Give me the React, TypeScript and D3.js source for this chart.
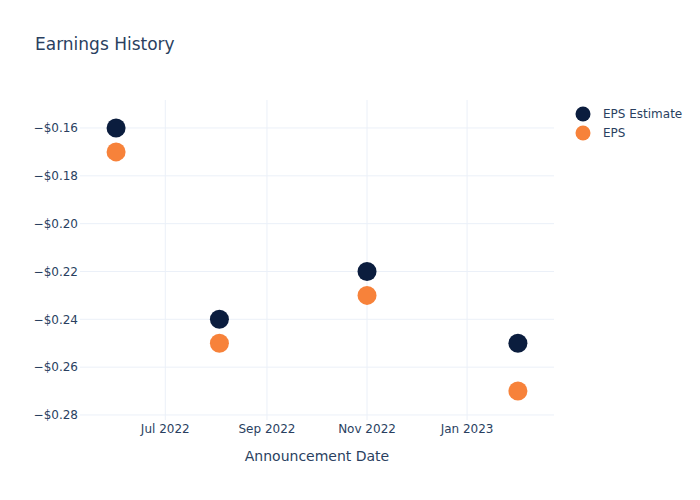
import React from "react";
import * as d3 from "d3";

const dates = ["2022-06-01", "2022-08-03", "2022-11-01", "2023-02-01"];
const epsEstimate = [-0.16, -0.24, -0.22, -0.25];
const eps = [-0.17, -0.25, -0.23, -0.27];
const yTicks = [-0.16, -0.18, -0.2, -0.22, -0.24, -0.26, -0.28];
const xTicks = ["2022-07-01", "2022-09-01", "2022-11-01", "2023-01-01"];
const seriesNames = ["EPS Estimate", "EPS"];

const W = 700, H = 500;
const left = 80, right = 554, top = 100, bottom = 420;
const FONT = "'DejaVu Sans', Verdana, sans-serif";
const TXT = "#2a3f5f";
const GRID = "#ebf0f8";
const NAVY = "#0b1d3e";
const ORANGE = "#f7823a";

export default function App() {
  const parse = d3.utcParse("%Y-%m-%d");
  const x = d3.scaleUtc()
    .domain([parse("2022-05-10")!, parse("2023-02-23")!])
    .range([left, right]);
  const y = d3.scaleLinear().domain([-0.2821, -0.1483]).range([bottom, top]);
  const fmtX = d3.utcFormat("%b %Y");
  const fmtY = (v: number) => "\u2212$" + Math.abs(v).toFixed(2);

  return (
    <svg width={W} height={H} style={{ position: "absolute", left: 0, top: 0, background: "#fff" }} fontFamily={FONT}>
      <text x={35} y={50} fontSize={17} fill={TXT}>Earnings History</text>
      {xTicks.map((t) => (
        <line key={"gx" + t} x1={x(parse(t)!)} x2={x(parse(t)!)} y1={top} y2={bottom} stroke={GRID} strokeWidth={1} />
      ))}
      {yTicks.map((t) => (
        <line key={"gy" + t} x1={left} x2={right} y1={y(t)} y2={y(t)} stroke={GRID} strokeWidth={1} />
      ))}
      {yTicks.map((t) => (
        <text key={"ty" + t} x={left - 2} y={y(t)} dy="0.35em" textAnchor="end" fontSize={12} fill={TXT}>{fmtY(t)}</text>
      ))}
      {xTicks.map((t) => (
        <text key={"tx" + t} x={x(parse(t)!)} y={bottom + 4} dy="0.71em" textAnchor="middle" fontSize={12} fill={TXT}>{fmtX(parse(t)!)}</text>
      ))}
      <text x={(left + right) / 2} y={461} textAnchor="middle" fontSize={14} fill={TXT}>Announcement Date</text>
      {dates.map((d, i) => (
        <circle key={"e" + i} cx={x(parse(d)!)} cy={y(epsEstimate[i])} r={9.5} fill={NAVY} />
      ))}
      {dates.map((d, i) => (
        <circle key={"a" + i} cx={x(parse(d)!)} cy={y(eps[i])} r={9.5} fill={ORANGE} />
      ))}
      {seriesNames.map((n, i) => (
        <g key={n} transform={`translate(583, ${114 + i * 19})`}>
          <circle r={7.5} fill={i === 0 ? NAVY : ORANGE} />
          <text x={20} dy="0.35em" fontSize={12} fill={TXT}>{n}</text>
        </g>
      ))}
    </svg>
  );
}
